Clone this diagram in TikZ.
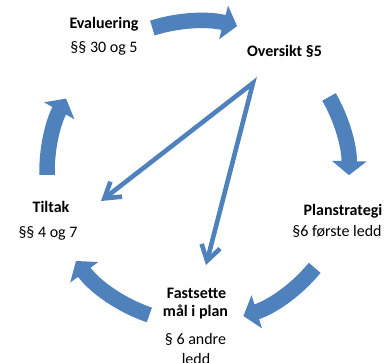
\documentclass[tikz,border=0pt]{standalone}
\usepackage{fontspec}
\setmainfont{Carlito}
\usetikzlibrary{arrows.meta,calc}
\definecolor{cycblue}{HTML}{4F81BD}
\begin{document}
\begin{tikzpicture}[x=1pt,y=1pt,
  lbl/.style={anchor=base,inner sep=0pt,font=\fontsize{16}{19}\selectfont,text=black},
  hd/.style={lbl,font=\fontsize{16}{19}\selectfont\bfseries},
  cyc/.style={draw=cycblue,line width=15.5pt,-{Triangle[length=14pt,width=34pt,fill=cycblue]}},
  thin/.style={draw=cycblue,line width=4.6pt,line join=miter,{Straight Barb[length=15pt,width=19pt]}-{Straight Barb[length=15pt,width=19pt]}}]
\useasboundingbox (0,0) rectangle (390,363);
\coordinate (C) at (198,191);
% cycle arrows
\draw[cyc] ($(C)+(107.6:151)$) arc[start angle=107.6,end angle=75,radius=151];
\draw[cyc] ($(C)+(29.8:151)$) arc[start angle=29.8,end angle=-1.2,radius=151];
\draw[cyc] ($(C)+(-39.4:151)$) arc[start angle=-39.4,end angle=-72.5,radius=151];
\draw[cyc] ($(C)+(-108.8:151)$) arc[start angle=-108.8,end angle=-143.9,radius=151];
\draw[cyc] ($(C)+(181.1:151)$) arc[start angle=181.1,end angle=150.9,radius=151];
% labels
\node[hd] (eval) at (104,334) {Evaluering};
\node[lbl] (evalp) at (104,310) {§§ 30 og 5};
\node[hd] (over) at (284.5,306) {Oversikt §5};
\node[hd] (tilt) at (51,150) {Tiltak};
\node[lbl] (tiltp) at (48,125) {§§ 4 og 7};
\node[hd] (plan) at (343,147) {Planstrategi};
\node[lbl] (planp) at (337,126) {§6 første ledd};
\node[hd] (fast1) at (196.5,64) {Fastsette};
\node[hd] (fast2) at (195.5,46) {mål i plan};
\node[lbl] (fastp1) at (195.5,18) {§ 6 andre};
\node[lbl] (fastp2) at (196,-2) {ledd};
% thin arrows
\coordinate (apex) at (253,280);
\coordinate (tipA) at (101,162);
\coordinate (tipB) at (206,98);
\draw[thin] (tipA) -- (apex) -- (tipB);
\end{tikzpicture}
\end{document}
